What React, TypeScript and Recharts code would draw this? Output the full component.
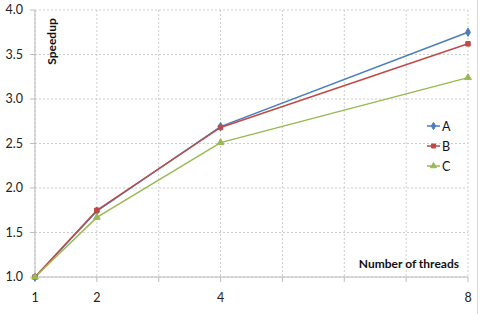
import React from 'react';
import { LineChart, Line, XAxis, YAxis, CartesianGrid, Symbols } from 'recharts';

const threads = [1, 2, 4, 8];
const seriesA = [1.0, 1.74, 2.69, 3.75];
const seriesB = [1.0, 1.75, 2.68, 3.62];
const seriesC = [1.0, 1.67, 2.51, 3.24];
const xTicks = [1, 2, 3, 4, 5, 6, 7, 8];
const xTickLabels = [1, 2, 4, 8];
const yTicks = [1.0, 1.5, 2.0, 2.5, 3.0, 3.5, 4.0];
const seriesNames = ['A', 'B', 'C'];
const seriesColors = ['#4a7ebb', '#be4b48', '#98b954'];
const seriesSymbols: ('diamond' | 'square' | 'triangle')[] = ['diamond', 'square', 'triangle'];
const seriesSymbolSizes = [20, 20, 20];

const data = threads.map((t, i) => ({ threads: t, A: seriesA[i], B: seriesB[i], C: seriesC[i] }));

const FONT = 'Lato, "Open Sans", sans-serif';

const makeDot = (idx: number) => (props: any) => {
  const { cx, cy, key } = props;
  if (cx == null || cy == null) return <g key={key} />;
  return (
    <Symbols
      key={key}
      cx={cx}
      cy={cy}
      type={seriesSymbols[idx]}
      size={seriesSymbolSizes[idx]}
      fill={seriesColors[idx]}
      stroke={seriesColors[idx]}
    />
  );
};

const SpeedupLabel = (props: any) => {
  const vb = props.viewBox || { x: 0, y: 10, width: 35, height: 267 };
  const x = vb.x + vb.width + 16;
  const y = vb.y + 31.5;
  return (
    <text
      x={x}
      y={y}
      transform={`rotate(-90 ${x} ${y})`}
      textAnchor="middle"
      dominantBaseline="central"
      fontFamily={FONT}
      fontSize={12}
      fontWeight="bold"
      fill="#111"
    >
      Speedup
    </text>
  );
};

const ThreadsLabel = (props: any) => {
  const vb = props.viewBox || { x: 35, y: 277, width: 433, height: 30 };
  return (
    <text
      x={vb.x + vb.width - 9}
      y={vb.y - 14}
      textAnchor="end"
      dominantBaseline="central"
      fontFamily={FONT}
      fontSize={12}
      fontWeight="bold"
      fill="#111"
    >
      Number of threads
    </text>
  );
};

export default function App() {
  return (
    <div style={{ position: 'absolute', left: 0, top: 0, width: 480, height: 314, background: '#fff', fontFamily: FONT }}>
      <LineChart width={480} height={314} data={data} margin={{ top: 10, right: 12, bottom: 7, left: 0 }}>
        <CartesianGrid stroke="#cccccc" strokeDasharray="2 2" />
        <XAxis
          dataKey="threads"
          type="number"
          domain={[1, 8]}
          ticks={xTicks}
          interval={0}
          tickFormatter={(v: number) => (xTickLabels.includes(v) ? String(v) : '')}
          height={30}
          tickSize={5}
          tickMargin={11}
          stroke="#bcbcbc"
          tick={{ fill: '#222', fontSize: 12.5, fontFamily: FONT }}
          label={<ThreadsLabel />}
        />
        <YAxis
          type="number"
          domain={[1, 4]}
          ticks={yTicks}
          interval={0}
          tickFormatter={(v: number) => v.toFixed(1)}
          width={35}
          tickSize={5}
          tickMargin={7}
          stroke="#bcbcbc"
          tick={{ fill: '#222', fontSize: 12.5, fontFamily: FONT }}
          label={<SpeedupLabel />}
        />
        {seriesNames.map((n, i) => (
          <Line
            key={n}
            dataKey={n}
            name={n}
            stroke={seriesColors[i]}
            strokeWidth={1.5}
            dot={makeDot(i)}
            activeDot={false}
            isAnimationActive={false}
          />
        ))}
      </LineChart>
      <div style={{ position: 'absolute', left: 427, top: 116 }}>
        {seriesNames.map((n, i) => (
          <div key={n} style={{ display: 'flex', alignItems: 'center', height: 20 }}>
            <svg width={13} height={12} style={{ display: 'block' }}>
              <line x1={0} y1={6} x2={13} y2={6} stroke={seriesColors[i]} strokeWidth={1.5} />
              <Symbols cx={6.5} cy={6} type={seriesSymbols[i]} size={16} fill={seriesColors[i]} stroke={seriesColors[i]} />
            </svg>
            <span style={{ marginLeft: 2, fontSize: 12.5, color: '#111', fontFamily: FONT }}>{n}</span>
          </div>
        ))}
      </div>
      <div style={{ position: 'absolute', left: 477, top: 0, width: 1, height: 314, background: '#d9d9d9' }} />
    </div>
  );
}
